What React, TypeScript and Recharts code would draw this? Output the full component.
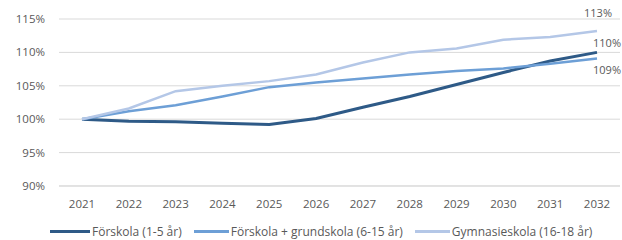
import React from 'react';
import { LineChart, Line, XAxis, YAxis, CartesianGrid, LabelList } from 'recharts';

const years = ['2021', '2022', '2023', '2024', '2025', '2026', '2027', '2028', '2029', '2030', '2031', '2032'];
const forskola = [100, 99.7, 99.6, 99.4, 99.2, 100.1, 101.8, 103.4, 105.2, 107.0, 108.7, 110.0];
const grundskola = [100, 101.2, 102.1, 103.4, 104.8, 105.5, 106.1, 106.7, 107.2, 107.6, 108.3, 109.1];
const gymnasie = [100, 101.6, 104.2, 105.0, 105.7, 106.7, 108.5, 110.0, 110.6, 111.9, 112.3, 113.2];
const yTicks = [90, 95, 100, 105, 110, 115];
const endLabels = { forskola: '110%', grundskola: '109%', gymnasie: '113%' };

const series = [
  { key: 'forskola', name: 'Förskola (1-5 år)', color: '#2e5a87', width: 3, label: endLabels.forskola, dx: 10, dy: -5, line: 40 },
  { key: 'grundskola', name: 'Förskola + grundskola (6-15 år)', color: '#6d9fd6', width: 2.5, label: endLabels.grundskola, dx: 10, dy: 16, line: 35 },
  { key: 'gymnasie', name: 'Gymnasieskola (16-18 år)', color: '#b4c7e7', width: 2.5, label: endLabels.gymnasie, dx: 1, dy: -14, line: 35 },
];

const data = years.map((y, i) => ({
  year: y,
  forskola: forskola[i],
  grundskola: grundskola[i],
  gymnasie: gymnasie[i],
}));

const last = years.length - 1;
const FONT = "'Open Sans', sans-serif";
const TXT = '#595959';

const makeLabel = (text: string, dx: number, dy: number) => (props: any) => {
  if (props.index !== last) return null;
  return (
    <text x={props.x + dx} y={props.y + dy} textAnchor="middle" fontSize={11} fill={TXT} fontFamily={FONT}>
      {text}
    </text>
  );
};

export default function App() {
  return (
    <div style={{ position: 'absolute', left: 0, top: 0, width: 622, height: 240, background: '#fff', overflow: 'hidden' }}>
      <LineChart width={622} height={240} data={data} margin={{ top: 19, right: 2, bottom: 24, left: 0 }}>
        <CartesianGrid vertical={false} stroke="#d9d9d9" />
        <XAxis
          dataKey="year"
          padding={{ left: 23, right: 23 }}
          tickLine={false}
          axisLine={{ stroke: '#d9d9d9' }}
          tick={{ fontSize: 11.5, fill: TXT, fontFamily: FONT }}
          tickMargin={8}
          height={30}
          interval={0}
        />
        <YAxis
          domain={[90, 115]}
          ticks={yTicks}
          tickFormatter={(v: number) => `${v}%`}
          tickLine={false}
          axisLine={false}
          width={59}
          tick={{ fontSize: 11.5, fill: TXT, fontFamily: FONT }}
          tickMargin={8}
        />
        {series.map((s) => (
          <Line
            key={s.key}
            name={s.name}
            dataKey={s.key}
            stroke={s.color}
            strokeWidth={s.width}
            dot={false}
            isAnimationActive={false}
          >
            <LabelList dataKey={s.key} content={makeLabel(s.label, s.dx, s.dy)} />
          </Line>
        ))}
      </LineChart>
      <div
        style={{
          position: 'absolute',
          left: 50,
          top: 224,
          display: 'flex',
          alignItems: 'center',
          gap: 12,
          fontFamily: FONT,
          fontSize: 12,
          color: TXT,
          whiteSpace: 'nowrap',
          lineHeight: '15px',
        }}
      >
        {series.map((s) => (
          <div key={s.key} style={{ display: 'flex', alignItems: 'center' }}>
            <span style={{ display: 'inline-block', width: s.line, height: s.width, background: s.color, marginRight: 2 }} />
            <span>{s.name}</span>
          </div>
        ))}
      </div>
    </div>
  );
}
